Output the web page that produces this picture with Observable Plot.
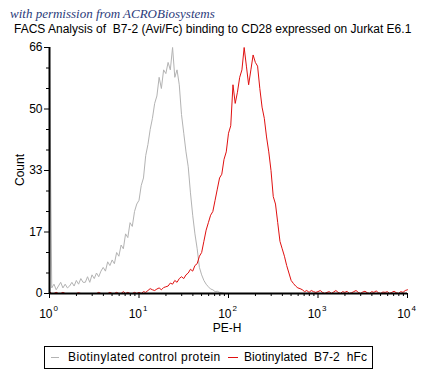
<!DOCTYPE html>
<html><head><meta charset="utf-8">
<script src="https://cdn.jsdelivr.net/npm/d3@7"></script>
<script src="https://cdn.jsdelivr.net/npm/@observablehq/plot@0.6"></script>
<style>
body{margin:0;background:#fff;font-family:"Liberation Sans",Arial,sans-serif;color:#000;}
#wrap{position:relative;width:431px;height:386px;overflow:hidden;}
.abs{position:absolute;white-space:pre;}
</style></head><body>
<div id="wrap">
  <div id="chart" class="abs" style="left:0;top:0"></div>
  <div class="abs" style="left:10px;top:6px;font:italic 13px 'Liberation Serif',serif;color:#2b3b7a">with permission from ACROBiosystems</div>
  <div class="abs" style="left:14px;top:22px;font-size:12px">FACS Analysis of  B7-2 (Avi/Fc) binding to CD28 expressed on Jurkat E6.1</div>
  <div class="abs" style="left:20px;top:170px;font-size:12px;transform:translate(-50%,-50%) rotate(-90deg)">Count</div>
  <div class="abs" style="left:227px;top:321px;font-size:12px;transform:translateX(-50%)">PE-H</div>
  <div class="abs" style="left:44px;top:346px;width:327px;height:21px;border:1px solid #000;font-size:12px;">
    <div class="abs" style="left:6px;top:10px;width:8px;height:1px;background:#b3b3b3"></div>
    <div class="abs" style="left:23px;top:3px;letter-spacing:0.4px">Biotinylated control protein</div>
    <div class="abs" style="left:183px;top:10px;width:10px;height:1px;background:#e01010"></div>
    <div class="abs" style="left:199px;top:3px;letter-spacing:0.1px">Biotinylated  B7-2  hFc</div>
  </div>
</div>
<script>
// histogram channels: log10(PE-H) from 0 to 4, 40 channels per decade
const channelStartLog = 0;
const channelStepLog = 0.025;

// Biotinylated control protein (gray)
const controlCounts = [
  63, 1.5, 2.5, 1,
  2, 3, 1.5, 2.5,
  1.5, 2, 3, 2,
  3.5, 2.5, 4, 3,
  3, 4.5, 3, 5,
  4, 5.5, 4.5, 6,
  7, 6, 8.5, 7.5,
  9, 8, 11, 10,
  13, 12, 16, 15,
  19, 18, 22, 24,
  25, 29, 31, 37,
  40, 44, 47, 51,
  53, 58, 55, 60,
  59, 62, 60, 66,
  58, 60, 56, 48,
  43, 38, 34, 27,
  21, 16, 12, 7,
  5, 3.5, 2.5, 1.8,
  1.2, 1, 0.5, 0.6,
  0.3, 0.2, 0, 0,
  0, 0, 0, 0,
  0, 0, 0, 0,
  0
];

// Biotinylated B7-2 hFc (red)
const b72Counts = [
  0.5, 0, 0, 0.3,
  0, 0, 0.3, 0,
  0, 0, 0, 0,
  0, 0.2, 0, 0,
  0, 0, 0, 0,
  0, 0, 0.3, 0,
  0, 0, 0, 0.3,
  0, 0, 0.3, 0,
  0, 0.5, 0, 0.3,
  0, 0, 0.3, 0,
  0.3, 0, 0.5, 0.3,
  0.8, 1.3, 1, 0.8,
  1.2, 1.5, 1, 1.6,
  1.8, 2, 2.8, 2.5,
  3.5, 3, 4, 4.5,
  4, 5, 5.5, 6.5,
  6, 7.5, 8, 10,
  11, 14, 17, 19,
  21, 22, 25, 28,
  31, 32, 36, 38,
  43, 45, 56, 51,
  54, 58, 60, 66,
  61, 56, 60, 64,
  62, 61, 55, 50,
  47, 42, 38, 33,
  26, 24, 19, 14,
  12, 10, 7.5, 5.5,
  3.5, 2.7, 2, 1.5,
  1.3, 1, 0.5, 0.8,
  0.3, 0.8, 0.5, 0.3,
  0.5, 0.8, 0.3, 0,
  0.3, 0.5, 0, 0.4,
  0.8, 0.3, 0, 0.5,
  0.3, 0.6, 0, 0.2,
  0.5, 0.8, 0.3, 0,
  0.4, 0.6, 0.2, 0,
  0.5, 0.3, 0.7, 0.2,
  0, 0.4, 0.3, 0.5,
  0, 0.3, 0.6, 0.2,
  0, 0.5, 0.3, 0.8,
  1
];

const yTicks = [0, 16.5, 33, 49.5, 66];
const yTickLabels = ["0", "17", "33", "50", "66"];
const yMinorTicks = [5.5, 11, 22, 27.5, 38.5, 44, 55, 60.5];
const xDecades = [1, 10, 100, 1000, 10000];
const xExponents = ["0", "1", "2", "3", "4"];
const xMinorMultipliers = [2, 3, 4, 5, 6, 7, 8, 9];

const toRows = counts => counts.map((c, i) => ({pe: Math.pow(10, channelStartLog + i * channelStepLog), count: c}));
const controlRows = toRows(controlCounts);
const b72Rows = toRows(b72Counts);
const yLabelMap = new Map(yTicks.map((t, i) => [t, yTickLabels[i]]));
const xMinorTicks = xDecades.slice(0, 4).flatMap(d => xMinorMultipliers.map(m => d * m));
const decadeRows = xDecades.map((d, i) => ({d, e: xExponents[i]}));

const chart = Plot.plot({
  width: 431,
  height: 340,
  marginLeft: 49,
  marginRight: 24,
  marginTop: 47,
  marginBottom: 47,
  style: {fontFamily: "Liberation Sans, Arial, sans-serif", fontSize: "12px", color: "#000", background: "transparent"},
  x: {type: "log", domain: [1, 10000], label: null},
  y: {domain: [0, 66], label: null},
  marks: [
    Plot.line(controlRows, {x: "pe", y: "count", stroke: "#b3b3b3", strokeWidth: 1}),
    Plot.line(b72Rows, {x: "pe", y: "count", stroke: "#e01010", strokeWidth: 1}),
    Plot.axisY(yTicks, {anchor: "left", label: null, tickSize: 5, tickPadding: 2, tickFormat: d => yLabelMap.get(d), fontSize: 12, stroke: "#000", fill: "#000"}),
    Plot.axisY(yMinorTicks, {anchor: "left", label: null, tickSize: 3, tickFormat: () => "", stroke: "#000"}),
    Plot.axisX(xDecades, {anchor: "bottom", label: null, tickSize: 5, tickFormat: () => "", stroke: "#000"}),
    Plot.axisX(xMinorTicks, {anchor: "bottom", label: null, tickSize: 3, tickFormat: () => "", stroke: "#000"}),
    Plot.text(decadeRows, {x: "d", y: () => 0, text: () => "10", textAnchor: "end", dx: 3, dy: 21, fontSize: 12, fill: "#000"}),
    Plot.text(decadeRows, {x: "d", y: () => 0, text: "e", textAnchor: "start", dx: 4, dy: 15, fontSize: 8, fill: "#000"}),
    Plot.ruleY([0], {stroke: "#000", strokeWidth: 2}),
    Plot.ruleX([1], {stroke: "#000", strokeWidth: 2})
  ]
});
document.getElementById("chart").appendChild(chart);
</script>
</body></html>
